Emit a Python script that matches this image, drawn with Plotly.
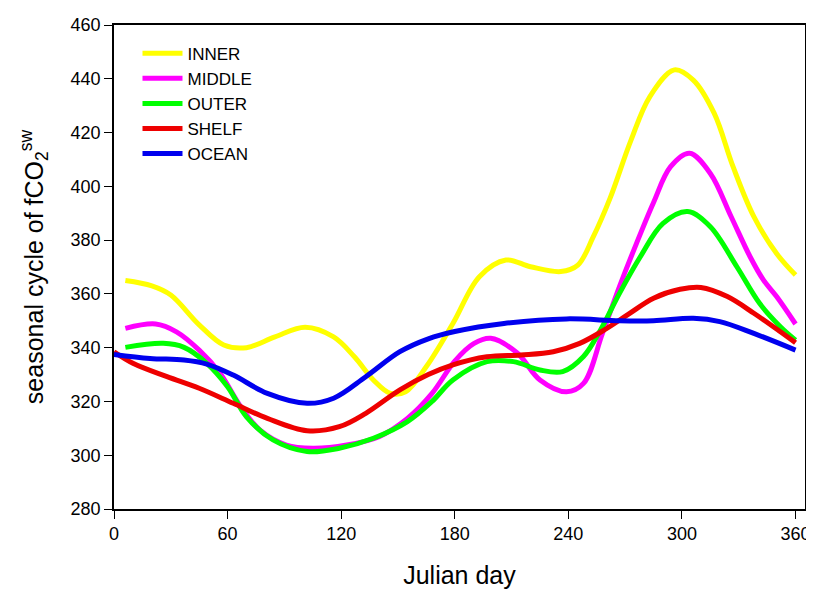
import plotly.graph_objects as go

inner_day = [6, 20, 30, 45, 58, 70, 85, 101, 116, 127, 137, 146, 154, 165, 179, 193, 207, 220, 236, 245, 253, 262, 273, 283, 296, 306, 317, 327, 338, 350, 360]
inner_val = [365, 363, 359.6, 348.5, 341, 340, 344, 347.6, 344, 336.6, 328, 323, 323.6, 333, 349, 366.4, 372.6, 370.1, 368.3, 370.7, 381, 395.5, 417, 433.3, 443.3, 439.5, 427.2, 407.3, 388.7, 375, 367]

middle_day = [6, 22, 33, 45, 56, 67, 77, 91, 105, 123, 140, 155, 168, 180, 190, 199, 213, 225, 239, 248, 258, 267, 276, 285, 294, 304, 315, 326, 336, 343, 350, 360]
middle_val = [347.2, 348.8, 345.9, 339.1, 330.5, 318, 309.4, 303.8, 302.6, 303.8, 306.9, 313.7, 323, 335, 341.5, 343.5, 338, 328, 323.6, 326.7, 345.3, 362.7, 378.8, 394, 407.3, 412.3, 404.8, 388.7, 373.8, 365.2, 359, 348.8]

outer_day = [6, 26, 37, 49, 60, 70, 84, 102, 119, 137, 155, 168, 179, 197, 211, 225, 237, 248, 257, 267, 278, 290, 303, 315, 329, 341, 352, 360]
outer_val = [340.1, 341.6, 340.1, 334.2, 325.5, 314.3, 305.7, 301.4, 302.6, 306.3, 312.5, 320, 328, 334.8, 334.8, 331.7, 331.1, 336.7, 346.6, 360.2, 373.8, 386.2, 390.6, 385, 370.1, 356.5, 347.8, 342.8]

shelf_day = [0, 10, 28, 45, 63, 81, 102, 119, 133, 151, 166, 179, 197, 215, 232, 246, 259, 271, 285, 299, 310, 324, 338, 352, 360]
shelf_val = [338.5, 334.2, 329.2, 324.9, 319.3, 313.7, 309.1, 310.6, 315.6, 324.3, 330, 333.6, 336.6, 337.3, 338.5, 341.6, 346.6, 352.1, 358.4, 361.7, 362.4, 359, 352.8, 345.9, 341.8]

ocean_day = [0, 19, 37, 49, 63, 81, 102, 116, 133, 151, 166, 180, 206, 239, 267, 285, 306, 320, 338, 360]
ocean_val = [337.5, 336, 335.4, 333.9, 329.8, 323, 319.3, 321.2, 329.2, 338.5, 343.3, 346, 349, 350.7, 350, 350, 350.9, 349.7, 345.3, 339.1]

series = [
    ("INNER", inner_day, inner_val, "#FFFF00"),
    ("MIDDLE", middle_day, middle_val, "#FF00FF"),
    ("OUTER", outer_day, outer_val, "#00FF00"),
    ("SHELF", shelf_day, shelf_val, "#EE0000"),
    ("OCEAN", ocean_day, ocean_val, "#0000EE"),
]

x_ticks = [0, 60, 120, 180, 240, 300, 360]
y_ticks = [280, 300, 320, 340, 360, 380, 400, 420, 440, 460]

fig = go.Figure()
for name, d, v, c in series:
    fig.add_trace(go.Scatter(x=d, y=v, name=name, mode="lines",
                             line=dict(color=c, width=5, shape="spline", smoothing=1.0)))

font = "Arial, Liberation Sans, sans-serif"
fig.update_layout(
    width=806, height=584,
    margin=dict(l=106, r=9, t=17, b=83),
    paper_bgcolor="white", plot_bgcolor="white",
    font=dict(family=font, color="black", size=17),
    showlegend=True,
    legend=dict(x=0.034, y=0.978, xanchor="left", yanchor="top",
                bgcolor="rgba(0,0,0,0)", font=dict(size=17, family=font),
                itemwidth=40, tracegroupgap=0),
    xaxis=dict(range=[0, 365], tickvals=x_ticks, ticks="outside", ticklen=8,
               tickwidth=1, tickcolor="black", showgrid=False, zeroline=False,
               showline=True, linecolor="black", linewidth=1.5, mirror=True,
               automargin=False, tickfont=dict(size=18),
               title=dict(text="Julian day", font=dict(size=25), standoff=23)),
    yaxis=dict(range=[280, 460], tickvals=y_ticks, ticks="outside", ticklen=8,
               tickwidth=1, tickcolor="black", showgrid=False, zeroline=False,
               showline=True, linecolor="black", linewidth=1.5, mirror=True,
               automargin=False, tickfont=dict(size=18),
               title=dict(text="seasonal cycle of fCO<sub>2</sub><sup>sw</sup>",
                          font=dict(size=25), standoff=20)),
)

fig.write_html("out.html")
